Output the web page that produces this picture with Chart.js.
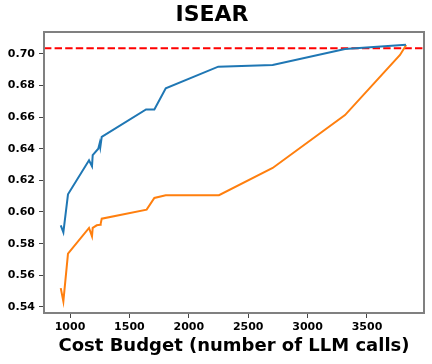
<!DOCTYPE html>
<html lang="en">
<head>
  <meta charset="UTF-8" />
  <title>ISEAR</title>
  <script src="https://cdn.jsdelivr.net/npm/chart.js"></script>
  <style>
    html, body {
      margin: 0;
      padding: 0;
      background: #ffffff;
    }
    #wrap {
      width: 432px;
      height: 364px;
    }
  </style>
</head>
<body>
  <div id="wrap"><canvas id="costChart" width="432" height="364"></canvas></div>

  <script>
    // blue run
    const blueBudget = [922, 944, 983, 1160, 1185, 1191, 1238, 1250, 1255, 1267, 1640, 1710, 1806, 2248, 2706, 3315, 3828];
    const blueScore  = [0.5916, 0.5872, 0.6112, 0.6327, 0.6289, 0.6359, 0.6400, 0.6435, 0.6410, 0.6475, 0.6648, 0.6648, 0.6781, 0.6918, 0.6928, 0.7030, 0.7057];

    // orange run
    const orangeBudget = [922, 944, 983, 1160, 1185, 1191, 1225, 1253, 1258, 1267, 1645, 1710, 1806, 2254, 2706, 3315, 3778, 3830];
    const orangeScore  = [0.5519, 0.5435, 0.5737, 0.5899, 0.5846, 0.5900, 0.5916, 0.5920, 0.5925, 0.5958, 0.6015, 0.6089, 0.6106, 0.6106, 0.6278, 0.6612, 0.6992, 0.7055];

    // dashed reference level
    const refScore = 0.7035;

    const xTicks = [1000, 1500, 2000, 2500, 3000, 3500];
    const yTicks = [0.54, 0.56, 0.58, 0.60, 0.62, 0.64, 0.66, 0.68, 0.70];

    const font = "'DejaVu Sans', sans-serif";

    const toPoints = (xs, ys) => xs.map((x, i) => ({ x: x, y: ys[i] }));

    // frame around the plot + horizontal dashed line
    const framePlugin = {
      id: 'frame',
      beforeDatasetsDraw(chart) {
        const { ctx, chartArea: a, scales } = chart;
        const y = scales.y.getPixelForValue(refScore);
        ctx.save();
        ctx.strokeStyle = '#ff0000';
        ctx.lineWidth = 2;
        ctx.setLineDash([7.4, 3.2]);
        ctx.beginPath();
        ctx.moveTo(a.left, y);
        ctx.lineTo(a.right, y);
        ctx.stroke();
        ctx.restore();
      },
      afterDatasetsDraw(chart) {
        const { ctx, chartArea: a } = chart;
        ctx.save();
        ctx.strokeStyle = '#808080';
        ctx.lineWidth = 2;
        ctx.strokeRect(a.left, a.top, a.right - a.left, a.bottom - a.top);
        ctx.restore();
      }
    };

    const ctx = document.getElementById('costChart').getContext('2d');
    new Chart(ctx, {
      type: 'line',
      data: {
        datasets: [
          {
            data: toPoints(blueBudget, blueScore),
            borderColor: '#1f77b4',
            borderWidth: 2,
            pointRadius: 0,
            tension: 0,
            fill: false
          },
          {
            data: toPoints(orangeBudget, orangeScore),
            borderColor: '#ff7f0e',
            borderWidth: 2,
            pointRadius: 0,
            tension: 0,
            fill: false
          }
        ]
      },
      options: {
        responsive: false,
        animation: false,
        layout: { padding: { left: 0, right: 8, top: 0, bottom: 0 } },
        plugins: {
          legend: { display: false },
          tooltip: { enabled: false },
          title: {
            display: true,
            text: 'ISEAR',
            color: '#000000',
            font: { family: font, size: 22, weight: 'bold', lineHeight: 1.2 },
            padding: { top: 2, bottom: 3.6 }
          }
        },
        scales: {
          x: {
            type: 'linear',
            min: 781,
            max: 3980,
            afterBuildTicks: (s) => { s.ticks = xTicks.map(v => ({ value: v })); },
            afterFit: (s) => { s.height = 51; },
            grid: { drawOnChartArea: false, drawTicks: true, tickLength: 5, tickColor: '#444', tickWidth: 1 },
            border: { display: false },
            ticks: {
              color: '#000000',
              padding: 3,
              maxRotation: 0,
              font: { family: font, size: 11, weight: 'bold' },
              callback: (v) => String(v)
            },
            title: {
              display: true,
              text: 'Cost Budget (number of LLM calls)',
              color: '#000000',
              font: { family: font, size: 18, weight: 'bold', lineHeight: 1.2 },
              padding: { top: 0, bottom: 7 }
            }
          },
          y: {
            type: 'linear',
            min: 0.5362,
            max: 0.7137,
            afterBuildTicks: (s) => { s.ticks = yTicks.map(v => ({ value: v })); },
            afterFit: (s) => { s.width = 44; },
            grid: { drawOnChartArea: false, drawTicks: true, tickLength: 5, tickColor: '#444', tickWidth: 1 },
            border: { display: false },
            ticks: {
              color: '#000000',
              padding: 4,
              font: { family: font, size: 11, weight: 'bold' },
              callback: (v) => v.toFixed(2)
            }
          }
        }
      },
      plugins: [framePlugin]
    });
  </script>
</body>
</html>
